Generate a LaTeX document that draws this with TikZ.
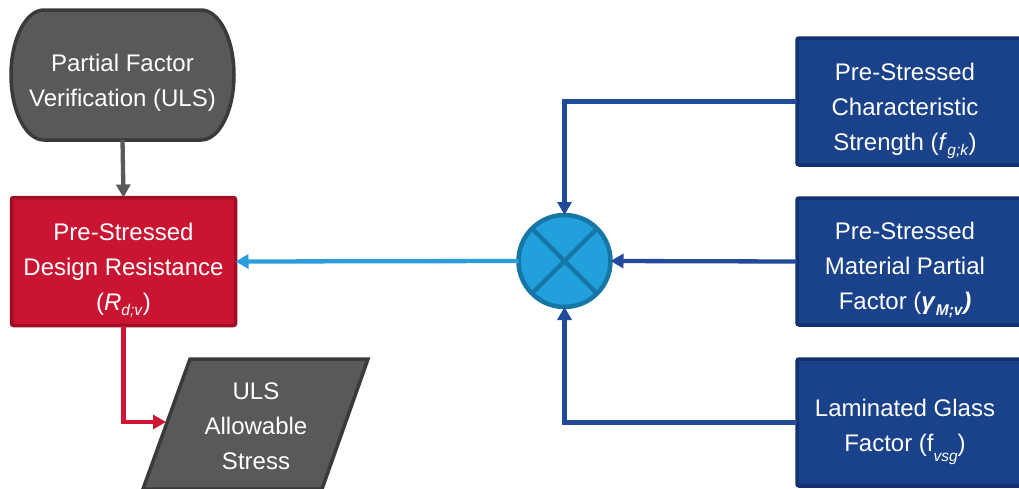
\documentclass[tikz,border=0pt]{standalone}
\usepackage{fontspec}
\setmainfont{Liberation Sans}
\usetikzlibrary{arrows.meta,positioning,calc}

\definecolor{termfill}{HTML}{595959}
\definecolor{termline}{HTML}{3A3A3A}
\definecolor{termlink}{HTML}{5A5A5A}
\definecolor{redfill}{HTML}{CA1532}
\definecolor{redline}{HTML}{9E0E25}
\definecolor{redlink}{HTML}{CC1634}
\definecolor{bluefill}{HTML}{1A428A}
\definecolor{blueline}{HTML}{12306C}
\definecolor{bluelink}{HTML}{214B9A}
\definecolor{skylink}{HTML}{2A9DDA}
\definecolor{skyfill}{HTML}{22A0DC}
\definecolor{skyline}{HTML}{1676A6}

% subscripts in the labels
\newcommand\lowidx[2][-0.22em]{\raisebox{#1}{\fontsize{15.5}{15.5}\selectfont #2}}

\tikzset{
  label text/.style={align=center,text=white,font=\fontsize{24}{35}\selectfont,inner sep=0pt},
  termshape/.style={fill=termfill,draw=termline,line width=3.5pt},
  redbox/.style={rectangle,fill=redfill,draw=redline,line width=3.5pt,rounded corners=2pt,
                 minimum width=224pt,minimum height=128pt,outer sep=0pt},
  bluebox/.style={rectangle,fill=bluefill,draw=blueline,line width=3.5pt,rounded corners=2pt,
                  minimum width=250pt,minimum height=127pt,outer sep=0pt,anchor=north west},
  multnode/.style={circle,fill=skyfill,draw=skyline,line width=4.5pt,minimum size=92pt,outer sep=0pt},
  tip/.style={-{Triangle[length=13pt,width=14pt]}},
  link/.style={line width=4.3pt,tip},
}

\begin{document}
\begin{tikzpicture}[x=1pt,y=-1pt]
\useasboundingbox (0,0) rectangle (1019,488);
\clip (0,0) rectangle (1019,488);

% start / end terminator
\draw[termshape] (44,10) -- (201,10)
  arc[start angle=-90,end angle=90,x radius=33,y radius=65]
  -- (44,140)
  arc[start angle=90,end angle=270,x radius=33,y radius=65] -- cycle;
\coordinate (term) at (122.5,75);
\node[label text] (termtxt) at (122.5,83) {Partial Factor\\Verification (ULS)};

% design resistance
\node[redbox] (design) at (123.5,261.5) {};
\node[label text] (designtxt) at (123.5,270)
  {Pre-Stressed\\Design Resistance\\(\textit{R}\lowidx{\textit{d;v}})};

% output parallelogram
\draw[termshape,line join=miter] (190,359) -- (368,359) -- (322,489) -- (143,489) -- cycle;
\node[label text] (allow) at (256,426) {ULS\\Allowable\\Stress};
\coordinate (allowin) at (166,422);

% multiplication junction
\node[multnode] (mult) at (564.5,261) {};
\draw[skyline,line width=4.5pt] (mult.45) -- (mult.225) (mult.135) -- (mult.315);

% input boxes
\node[bluebox] (charstr) at (797,38) {};
\node[label text] (charstrtxt) at (905,111)
  {Pre-Stressed\\Characteristic\\Strength (\textit{f}\lowidx{\textit{g;k}})};

\node[bluebox] (matfac) at (797,198) {};
\node[label text] (matfactxt) at (905,270)
  {Pre-Stressed\\Material Partial\\Factor (\textbf{\textit{γ}}\lowidx{\textbf{\textit{M;v}}}\textbf{\textit{)}}};

\node[bluebox] (lamfac) at (797,359) {};
\node[label text] (lamfactxt) at (905,432)
  {Laminated Glass\\Factor (f\lowidx[-0.4em]{\textit{vsg}})};

% connectors
\draw[link,termlink] (term |- 0,140) -- (design.north);
\draw[link,redlink,line join=miter] (design.south) |- (allowin);
\draw[link,skylink] (mult.west) -- (design.east);
\draw[link,bluelink,line join=miter] (charstr.west) -| (mult.north);
\draw[link,bluelink] (matfac.west) -- (mult.east);
\draw[link,bluelink,line join=miter] (lamfac.west) -| (mult.south);
\end{tikzpicture}
\end{document}
